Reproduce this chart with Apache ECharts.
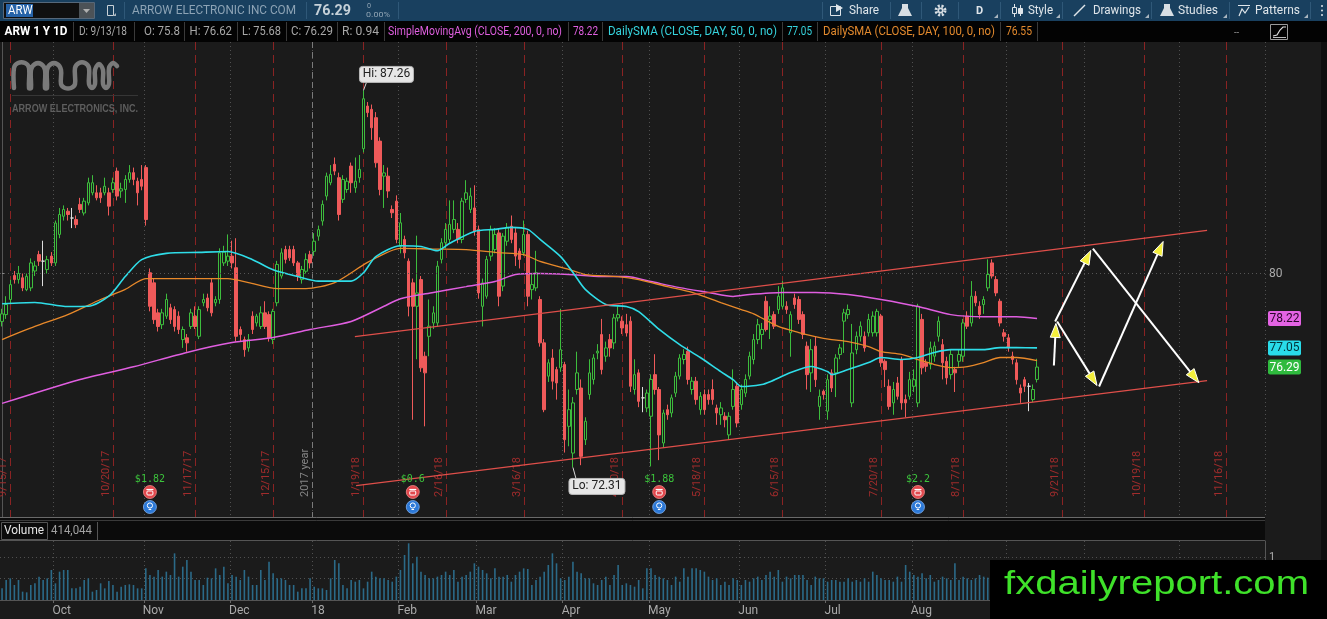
<!DOCTYPE html>
<html>
<head>
<meta charset="utf-8">
<title>ARW 1 Y 1D</title>
<script src="https://cdn.jsdelivr.net/npm/echarts@6.0.0/dist/echarts.min.js"></script>
<style>
  html, body { margin: 0; padding: 0; background: #1b1b1b; overflow: hidden; }
  #main { width: 1327px; height: 619px; }
</style>
</head>
<body>
<div id="main"></div>
<script>
// trading calendar 9/13/17 .. 11/30/18 (future part is empty space on the chart)
var holidays = ['2017-11-23', '2017-12-25', '2018-01-01', '2018-01-15', '2018-02-19',
  '2018-03-30', '2018-05-28', '2018-07-04', '2018-09-03', '2018-11-22'];
var dates = [];
(function () {
  var d = new Date(Date.UTC(2017, 8, 13));
  var end = Date.UTC(2018, 10, 30);
  while (d.getTime() <= end) {
    var wd = d.getUTCDay();
    var s = d.toISOString().slice(0, 10);
    if (wd !== 0 && wd !== 6 && holidays.indexOf(s) < 0) dates.push(s);
    d.setUTCDate(d.getUTCDate() + 1);
  }
})();

// bottom axis month labels (one per month start)
var monthTicks = ['Oct', 'Nov', 'Dec', '18', 'Feb', 'Mar', 'Apr', 'May', 'Jun', 'Jul', 'Aug', 'Sep', 'Oct', 'Nov'];

// daily candles [open, close, low, high], 9/13/17 .. 9/13/18
var candles = [
  [78.1, 78.4, 77.9, 78.6], [78.37, 78.77, 78.2, 79.1], [78.97, 79.56, 78.8, 79.75], [79.92, 79.76, 79.6, 80.1],
  [79.76, 80.0, 79.6, 80.3], [79.83, 79.43, 79.3, 80.0], [79.36, 79.89, 79.3, 80.0], [79.43, 80.42, 79.3, 80.6],
  [80.1, 80.3, 79.9, 80.5], [80.75, 80.49, 80.3, 80.9], [80.49, 80.49, 79.5, 81.3], [80.16, 80.55, 80.0, 80.7],
  [80.69, 80.42, 80.3, 80.85], [80.42, 82.0, 80.3, 82.1], [81.55, 82.34, 81.4, 82.6], [82.27, 82.54, 82.1, 82.7],
  [82.47, 82.34, 82.1, 82.6], [82.2, 82.2, 81.8, 82.6], [82.14, 81.94, 81.8, 82.3], [82.74, 82.54, 82.4, 83.0],
  [82.4, 82.87, 82.3, 83.0], [82.8, 83.6, 82.7, 83.8], [83.2, 83.6, 83.1, 83.9], [83.2, 83.0, 82.9, 83.5],
  [83.2, 83.0, 82.8, 83.4], [83.2, 83.46, 83.1, 83.8], [83.2, 82.67, 82.3, 83.4], [83.33, 83.6, 83.2, 83.8],
  [84.06, 83.07, 82.9, 84.2], [83.27, 83.36, 83.0, 83.6], [83.33, 83.73, 82.8, 83.9], [83.73, 84.0, 83.6, 84.3],
  [84.0, 83.73, 83.5, 84.2], [83.66, 83.2, 82.7, 83.8], [83.73, 83.46, 83.3, 84.3], [84.2, 82.14, 81.9, 84.3],
  [80.03, 78.7, 78.5, 80.2], [79.63, 78.17, 78.0, 79.8], [78.44, 77.9, 77.7, 78.6], [77.97, 78.44, 77.8, 78.6],
  [78.31, 78.97, 78.2, 79.2], [78.64, 78.17, 78.0, 78.8], [78.57, 77.9, 77.7, 78.7], [78.31, 77.78, 77.6, 78.5],
  [77.38, 77.78, 77.05, 77.9], [77.45, 77.25, 76.9, 77.6], [77.9, 78.44, 77.8, 78.6], [78.31, 77.9, 77.8, 78.7],
  [77.51, 78.57, 77.4, 78.7], [78.84, 78.97, 78.7, 79.2], [79.03, 78.64, 78.5, 79.2], [79.63, 78.44, 78.3, 79.8],
  [78.84, 78.97, 78.7, 79.1], [78.97, 80.82, 78.8, 81.0], [80.42, 80.85, 80.3, 81.1], [80.49, 80.69, 80.3, 81.55],
  [80.69, 80.42, 80.2, 81.3], [80.23, 77.51, 77.3, 81.4], [77.78, 77.58, 77.3, 77.9], [77.38, 76.98, 76.7, 77.5],
  [77.05, 77.38, 76.9, 77.6], [78.31, 77.78, 77.6, 78.5], [78.04, 78.31, 77.9, 78.4], [77.9, 78.44, 77.8, 78.7],
  [78.44, 77.9, 77.8, 78.9], [78.37, 77.45, 77.3, 78.5], [77.38, 78.5, 77.2, 78.6], [78.84, 80.36, 78.7, 80.5],
  [79.9, 80.82, 79.8, 81.0], [80.95, 80.56, 80.4, 81.1], [80.95, 80.62, 80.5, 81.1], [80.95, 80.42, 80.3, 81.1],
  [80.42, 79.9, 79.7, 80.5], [79.76, 80.16, 79.6, 80.3], [80.09, 80.55, 80.0, 80.8], [80.75, 80.42, 80.2, 80.9],
  [80.88, 81.28, 80.7, 81.6], [81.48, 81.74, 81.3, 81.9], [82.08, 82.74, 81.9, 82.9], [83.07, 83.86, 82.9, 84.0],
  [83.6, 83.93, 83.5, 84.3], [84.33, 84.06, 83.9, 84.6], [83.8, 82.34, 82.1, 84.0], [82.94, 83.73, 82.8, 83.9],
  [83.33, 83.66, 83.2, 83.8], [84.26, 83.6, 83.2, 84.4], [83.4, 83.66, 83.2, 84.6], [83.8, 84.13, 83.6, 84.7],
  [84.95, 86.93, 84.8, 87.26], [86.64, 86.38, 86.2, 86.8], [86.51, 85.78, 85.3, 86.7], [86.18, 84.39, 84.2, 86.4],
  [85.25, 83.33, 83.1, 85.4], [83.86, 83.99, 82.6, 84.3], [83.86, 83.27, 83.0, 84.2], [82.54, 82.41, 82.2, 82.7],
  [82.87, 81.35, 81.2, 83.1], [81.08, 82.01, 80.8, 82.4], [81.35, 80.82, 80.6, 81.5], [80.49, 78.7, 78.3, 80.6],
  [79.63, 78.7, 74.2, 79.8], [78.7, 79.23, 76.6, 81.5], [79.76, 76.26, 76.1, 79.9], [76.72, 76.06, 73.94, 76.9],
  [77.51, 77.91, 76.72, 78.97], [78.04, 78.44, 77.8, 78.7], [78.04, 80.29, 77.9, 80.5], [80.56, 81.22, 80.4, 81.4],
  [81.22, 81.75, 81.0, 82.0], [81.35, 81.95, 81.2, 82.9], [81.75, 82.14, 81.6, 82.9], [81.75, 81.35, 81.2, 82.0],
  [81.35, 82.87, 81.2, 83.0], [82.94, 83.2, 82.8, 83.7], [82.54, 83.07, 82.4, 83.4], [82.6, 81.68, 81.5, 83.5],
  [81.75, 79.23, 79.0, 81.9], [78.7, 79.63, 77.9, 79.8], [79.1, 80.56, 79.0, 80.7], [80.69, 81.75, 80.5, 81.9],
  [80.95, 81.55, 80.8, 81.8], [81.61, 79.1, 78.7, 81.8], [79.5, 81.48, 79.3, 81.6], [81.28, 81.81, 81.1, 82.0],
  [81.88, 81.35, 81.2, 82.3], [81.61, 80.69, 80.3, 81.8], [80.89, 80.56, 80.2, 81.0], [80.82, 81.55, 80.7, 82.1],
  [81.55, 79.1, 78.7, 81.7], [79.36, 79.56, 78.97, 80.0], [79.43, 80.03, 79.3, 80.9], [78.97, 77.25, 77.1, 79.1],
  [77.25, 74.6, 74.5, 77.4], [75.93, 76.46, 75.7, 76.6], [76.65, 75.73, 75.4, 77.0], [76.19, 75.66, 75.0, 76.3],
  [76.26, 76.98, 76.1, 78.6], [76.39, 73.41, 72.9, 76.5], [73.94, 74.6, 73.15, 75.4], [72.88, 74.87, 72.31, 75.1],
  [75.4, 76.06, 75.2, 76.9], [75.46, 72.75, 72.4, 75.8], [73.41, 74.14, 73.2, 74.3], [75.2, 76.06, 75.0, 76.6],
  [75.8, 76.65, 75.6, 76.8], [76.85, 76.92, 76.6, 77.2], [77.58, 76.19, 76.0, 78.2], [76.72, 77.05, 76.5, 77.3],
  [77.38, 77.05, 76.7, 77.6], [77.25, 78.24, 77.0, 78.4], [78.24, 78.37, 78.1, 78.7], [78.11, 77.84, 77.6, 78.3],
  [77.97, 77.64, 77.5, 78.4], [78.11, 75.53, 75.3, 78.3], [75.4, 75.99, 75.2, 76.6], [76.06, 74.93, 74.7, 76.2],
  [75.07, 75.07, 74.5, 75.5], [74.67, 75.26, 74.5, 75.4], [74.34, 75.8, 72.35, 76.0], [75.99, 75.4, 75.2, 76.8],
  [75.4, 73.6, 72.6, 75.5], [73.28, 74.47, 73.1, 74.6], [74.6, 74.4, 74.2, 74.8], [74.47, 75.07, 74.3, 75.2],
  [75.26, 75.93, 75.1, 76.1], [75.93, 76.65, 75.8, 76.8], [76.59, 76.79, 76.4, 77.0], [76.92, 75.8, 75.6, 77.1],
  [75.4, 75.73, 75.2, 75.9], [75.73, 75.0, 74.8, 75.9], [74.6, 75.13, 74.4, 75.3], [75.2, 74.6, 74.4, 75.4],
  [75.2, 75.0, 74.8, 75.4], [75.4, 75.0, 74.8, 75.8], [74.67, 74.47, 74.0, 74.8], [74.4, 74.67, 74.0, 74.9],
  [74.34, 74.2, 73.9, 74.5], [73.6, 74.34, 73.4, 74.5], [74.73, 75.4, 74.6, 76.2], [75.53, 74.07, 73.9, 75.7],
  [74.8, 75.4, 74.6, 75.6], [75.26, 75.8, 75.1, 76.0], [75.93, 76.72, 75.8, 76.9], [76.59, 77.38, 76.4, 77.6],
  [77.38, 77.97, 77.2, 78.2], [77.58, 77.78, 77.0, 78.04], [78.9, 77.78, 77.7, 79.1], [78.18, 78.31, 77.4, 78.7],
  [78.37, 77.91, 77.8, 78.5], [78.57, 79.1, 78.4, 79.5], [78.7, 79.43, 78.6, 79.7], [78.7, 78.57, 78.4, 78.9],
  [77.65, 78.37, 76.7, 78.5], [79.03, 78.77, 78.6, 79.2], [78.97, 78.18, 78.0, 79.1], [78.37, 77.58, 77.4, 78.5],
  [77.12, 75.99, 75.4, 77.3], [76.06, 76.98, 75.3, 77.4], [77.12, 75.79, 75.5, 77.5], [74.73, 75.13, 74.2, 75.4],
  [75.33, 75.2, 75.0, 75.4], [74.54, 75.79, 74.2, 76.0], [76.06, 75.46, 75.3, 76.2], [76.06, 76.65, 75.1, 76.8],
  [76.79, 77.05, 76.6, 77.2], [78.11, 78.44, 76.85, 78.6], [78.37, 78.57, 78.2, 78.77], [74.87, 76.85, 74.7, 78.0],
  [76.98, 77.51, 76.8, 77.7], [77.51, 77.91, 77.3, 78.1], [77.51, 77.05, 76.9, 77.7], [77.65, 78.18, 77.5, 78.4],
  [77.65, 78.31, 77.5, 78.5], [77.65, 78.5, 77.5, 78.6], [78.31, 76.46, 76.3, 78.4], [76.52, 76.19, 75.5, 76.6],
  [75.53, 74.73, 74.6, 75.8], [74.87, 75.4, 74.4, 75.7], [75.66, 75.13, 75.0, 75.9], [76.59, 74.87, 74.6, 76.7],
  [75.0, 74.87, 74.3, 75.2], [75.13, 75.79, 75.0, 76.1], [75.53, 75.79, 75.3, 76.2], [74.87, 78.7, 74.7, 78.8],
  [78.18, 76.26, 76.0, 78.4], [76.46, 76.32, 76.1, 76.6], [76.39, 77.05, 76.2, 77.3], [76.72, 77.12, 76.5, 77.3],
  [77.51, 78.11, 77.3, 78.3], [77.18, 76.46, 75.8, 77.4], [76.52, 75.86, 75.6, 76.7], [75.99, 76.79, 75.8, 77.0],
  [76.19, 76.06, 75.3, 76.3], [76.52, 76.79, 76.3, 77.0], [76.72, 78.04, 76.5, 78.2], [78.31, 77.91, 77.8, 78.5],
  [78.04, 79.1, 77.9, 79.7], [79.1, 78.84, 78.7, 79.3], [78.7, 78.37, 78.2, 78.9], [78.77, 78.97, 78.4, 79.1],
  [79.43, 79.96, 79.3, 80.56], [80.42, 79.9, 79.8, 80.56], [79.76, 79.23, 79.1, 79.9], [78.9, 78.04, 77.9, 79.0],
  [77.65, 77.51, 77.3, 77.8], [77.45, 77.05, 76.9, 77.6], [76.72, 76.59, 76.4, 76.9], [76.46, 75.79, 75.6, 76.6],
  [75.46, 75.26, 74.87, 75.6], [75.79, 75.53, 75.3, 75.9], [75.53, 75.53, 74.54, 75.66], [75.0, 75.4, 74.9, 75.6],
  [75.8, 76.29, 75.68, 76.62]
];

// daily volume, thousands of shares
var volumes = [
  271, 465, 504, 349, 465, 194, 178, 349, 388, 543, 465, 504, 698, 388, 659, 698, 698, 271, 271, 310,
  465, 504, 194, 233, 388, 271, 442, 349, 194, 310, 349, 364, 349, 271, 271,
  736, 581, 543, 698, 543, 659, 581, 1085, 543, 775, 930, 659, 465, 465, 349, 519, 504, 736, 581, 775,
  388, 581, 543, 465, 698, 543, 349, 349, 698, 465, 891, 620, 504, 504, 465, 349, 349, 194, 271, 271,
  504, 310, 271, 271, 233, 504, 930, 853, 349, 271, 465, 426, 465, 271, 426, 659, 543, 504, 504, 465,
  426, 543, 698, 1047, 1318, 853, 1008, 659, 581, 504, 504, 543, 581, 659, 581, 698, 426, 543, 581, 659,
  853, 775, 698, 620, 504, 736, 543, 543, 581, 426,
  581, 659, 736, 721, 349, 465, 543, 659, 814, 1085, 853, 504, 465, 543, 891, 659, 620, 504, 504, 388,
  349, 465, 543, 349, 581, 814, 349, 388, 349, 310, 465, 271, 736, 736, 581, 543, 504, 465, 349, 543,
  426, 736, 543, 736, 736, 698, 659, 543, 465, 504, 349, 426, 349, 504, 465, 349, 465, 426, 504, 543,
  465, 581, 659, 543, 698, 426, 543, 504, 581, 581, 581, 465, 349, 543, 504, 504, 426, 465, 465, 426,
  426, 504, 426, 465, 426, 504, 426, 659, 581, 504, 465, 465, 426, 543, 426, 814, 659, 581, 543, 620,
  504, 581, 426, 465, 543, 504, 465, 853, 465, 543, 504, 465, 504, 581, 543,
  520, 480, 610, 560, 500, 540, 600, 470, 520, 480, 440, 460, 414.044
];

// moving averages: [bar index, value]
var sma200 = [[0, 74.85], [19, 75.8], [32, 76.3], [45, 76.87], [56, 77.26], [66, 77.46], [75, 77.78], [85, 78.1],
  [93, 78.7], [97, 79.0], [105, 79.25], [113, 79.48], [120, 79.68], [125, 79.96], [131, 80.0], [138, 79.96],
  [146, 79.88], [152, 79.88], [158, 79.68], [165, 79.44], [172, 79.25], [178, 79.09], [182, 79.17], [190, 79.25],
  [198, 79.25], [206, 79.17], [214, 78.97], [223, 78.69], [231, 78.37], [239, 78.29], [247, 78.29], [252, 78.22]];
var sma50 = [[0, 78.8], [8, 78.85], [16, 78.69], [21, 78.7], [26, 79.1], [30, 79.88], [34, 80.55], [40, 80.8],
  [48, 80.84], [55, 80.87], [61, 80.55], [66, 80.15], [72, 79.88], [77, 79.7], [85, 79.7], [88, 80.03],
  [91, 80.67], [97, 81.1], [102, 81.07], [106, 80.9], [109, 81.2], [115, 81.67], [120, 81.75], [124, 81.83],
  [128, 81.75], [131, 81.35], [136, 80.67], [139, 80.04], [142, 79.37], [147, 78.77], [152, 78.69], [155, 78.49],
  [160, 77.78], [165, 77.18], [170, 76.67], [175, 76.11], [178, 75.79], [180, 75.52], [185, 75.6], [187, 75.71],
  [192, 76.07], [197, 76.31], [201, 76.11], [202, 75.99], [206, 76.19], [211, 76.47], [214, 76.67], [219, 76.59],
  [223, 76.67], [227, 76.87], [231, 76.98], [235, 76.98], [239, 76.98], [243, 77.06], [247, 77.06], [252, 77.05]];
var sma100 = [[0, 77.38], [8, 77.9], [16, 78.37], [24, 78.97], [30, 79.37], [35, 79.8], [44, 79.8], [55, 79.8],
  [60, 79.64], [67, 79.4], [74, 79.4], [81, 79.64], [89, 80.44], [97, 81.0], [105, 80.97], [113, 80.95],
  [121, 80.83], [127, 80.75], [131, 80.48], [138, 80.16], [142, 79.96], [150, 79.88], [155, 79.76], [162, 79.48],
  [168, 79.25], [175, 78.85], [180, 78.57], [183, 78.4], [189, 77.9], [194, 77.66], [198, 77.5], [202, 77.38],
  [206, 77.3], [211, 77.1], [214, 76.9], [219, 76.79], [223, 76.59], [227, 76.39], [231, 76.27], [235, 76.31],
  [239, 76.47], [243, 76.67], [247, 76.67], [252, 76.55]];

// option expiration dates (red dashed verticals) and earnings
var expiryDates = ['2017-09-15', '2017-10-20', '2017-11-17', '2017-12-15', '2018-01-19', '2018-02-16',
  '2018-03-16', '2018-04-20', '2018-05-18', '2018-06-15', '2018-07-20', '2018-08-17', '2018-09-21',
  '2018-10-19', '2018-11-16'];
var earningsDates = ['2017-11-02', '2018-02-06', '2018-05-03', '2018-08-02'];
var earningsText = ['$1.82', '$0.6', '$1.88', '$2.2'];

// hand drawings, in [bar index, price]
var channelLines = [[85.9, 77.5, 293.4, 81.71], [86.2, 71.59, 293.4, 75.75]];
var arrowLines = [
  [256.1, 76.35, 256.6, 78.02],
  [256.4, 78.10, 265.1, 80.91],
  [256.9, 78.10, 266.6, 75.56],
  [267.1, 75.52, 282.7, 81.27],
  [265.6, 80.99, 291.4, 75.67]
];

// ---- derived lookups ----
var monthStart = {}, monthLabelAt = {};
(function () {
  var k = 0;
  for (var i = 1; i < dates.length; i++) {
    if (dates[i].slice(0, 7) !== dates[i - 1].slice(0, 7)) {
      monthStart[i] = true;
      monthLabelAt[i] = monthTicks[k++];
    }
  }
})();
function shortDate(s) {
  return (+s.slice(5, 7)) + '/' + (+s.slice(8, 10)) + '/' + s.slice(2, 4);
}
var expiryLabels = expiryDates.map(shortDate);
var yearIdx = dates.indexOf('2018-01-02');
var last = candles.length - 1;
var hiIdx = 0, loIdx = 0;
candles.forEach(function (c, i) {
  if (c[3] > candles[hiIdx][3]) hiIdx = i;
  if (c[2] < candles[loIdx][2]) loIdx = i;
});
var lastS200 = sma200[sma200.length - 1][1];
var lastS50 = sma50[sma50.length - 1][1];
var lastS100 = sma100[sma100.length - 1][1];
var lc = candles[last];

var UP = '#3dbd3d', DOWN = '#ef5a5a', BG = '#1b1b1b';
var tagFill = ['#e463e4', '#29dce9', '#2fba3e'];
var tagText = ['#2a062a', '#033338', '#ffffff'];

function renderExpiry(params, api) {
  var cs = params.coordSys;
  var x = Math.round(api.coord([api.value(0), api.value(1)])[0]) + 0.5;
  var bottom = cs.y + cs.height;
  return { type: 'group', children: [
    { type: 'line', shape: { x1: x, y1: cs.y, x2: x, y2: bottom }, style: { stroke: '#8a2323', lineWidth: 1, lineDash: [8, 5] } },
    { type: 'text', x: x - 7, y: bottom - 20, rotation: Math.PI / 2,
      style: { text: expiryLabels[params.dataIndex], fill: '#a02c2c', font: '11px Roboto', align: 'left', verticalAlign: 'middle' } }
  ] };
}
function renderYear(params, api) {
  var cs = params.coordSys;
  var x = Math.round(api.coord([api.value(0), api.value(1)])[0] - api.size([1, 0])[0] / 2) + 0.5;
  var bottom = cs.y + cs.height;
  return { type: 'group', children: [
    { type: 'line', shape: { x1: x, y1: cs.y, x2: x, y2: bottom }, style: { stroke: '#7a7a7a', lineWidth: 1, lineDash: [6, 4] } },
    { type: 'text', x: x - 7, y: bottom - 20, rotation: Math.PI / 2,
      style: { text: '2017 year', fill: '#858585', font: '11px Roboto', align: 'left', verticalAlign: 'middle' } }
  ] };
}
function renderEarn(params, api) {
  var cs = params.coordSys;
  var x = api.coord([api.value(0), api.value(1)])[0];
  var b = cs.y + cs.height, c1 = b - 25, c2 = b - 10;
  return { type: 'group', children: [
    { type: 'text', x: x, y: b - 38, style: { text: earningsText[params.dataIndex], fill: '#3cc43c',
      font: '10px "DejaVu Sans Mono"', align: 'center', verticalAlign: 'middle' } },
    { type: 'circle', shape: { cx: x, cy: c1, r: 6.5 }, style: { fill: '#e2474c', stroke: '#f08a8a', lineWidth: 0.8 } },
    { type: 'rect', shape: { x: x - 3, y: c1 - 1, width: 6, height: 4, r: 1 }, style: { fill: 'none', stroke: '#fff', lineWidth: 1 } },
    { type: 'line', shape: { x1: x - 3.5, y1: c1 - 2.5, x2: x + 3.5, y2: c1 - 2.5 }, style: { stroke: '#fff', lineWidth: 1.2 } },
    { type: 'circle', shape: { cx: x, cy: c2, r: 6.5 }, style: { fill: '#2c79d8', stroke: '#7fb0f0', lineWidth: 0.8 } },
    { type: 'circle', shape: { cx: x, cy: c2 - 1.5, r: 2.6 }, style: { fill: 'none', stroke: '#fff', lineWidth: 1 } },
    { type: 'line', shape: { x1: x - 1.3, y1: c2 + 2.5, x2: x + 1.3, y2: c2 + 2.5 }, style: { stroke: '#fff', lineWidth: 1 } }
  ] };
}
function renderHiLo(params, api) {
  var p = api.coord([api.value(0), api.value(1)]);
  var isHi = api.value(2) === 1;
  var w = isHi ? 54 : 56, h = 16;
  var bx = p[0] - 4, by = isHi ? p[1] - 24 : p[1] + 11;
  var ty = isHi ? by + h : by;
  return { type: 'group', children: [
    { type: 'line', shape: { x1: p[0] + 3, y1: ty, x2: p[0], y2: p[1] }, style: { stroke: '#d8d8d8', lineWidth: 1 } },
    { type: 'rect', shape: { x: bx, y: by, width: w, height: h, r: 3 }, style: { fill: '#e6e6e6', stroke: '#b8b8b8', lineWidth: 1 } },
    { type: 'text', x: bx + w / 2, y: by + h / 2, style: { text: (isHi ? 'Hi: ' : 'Lo: ') + api.value(1).toFixed(2),
      fill: '#222', font: '12px Roboto', align: 'center', verticalAlign: 'middle' } }
  ] };
}
function renderTag(params, api) {
  var cs = params.coordSys;
  var y = api.coord([api.value(0), api.value(1)])[1];
  var k = api.value(2), x = cs.x + cs.width + 3;
  return { type: 'group', children: [
    { type: 'rect', shape: { x: x, y: y - 7.5, width: 33, height: 15, r: 2 }, style: { fill: tagFill[k] } },
    { type: 'text', x: x + 16.5, y: y + 0.5, style: { text: api.value(1).toFixed(2), fill: tagText[k],
      font: '12px Roboto', align: 'center', verticalAlign: 'middle' } }
  ] };
}
function renderSeg(params, api) {
  var a = api.coord([api.value(0), api.value(1)]), b = api.coord([api.value(2), api.value(3)]);
  return { type: 'line', shape: { x1: a[0], y1: a[1], x2: b[0], y2: b[1] }, style: { stroke: '#df4f4a', lineWidth: 1.2 } };
}
function renderArrow(params, api) {
  var a = api.coord([api.value(0), api.value(1)]), b = api.coord([api.value(2), api.value(3)]);
  var dx = b[0] - a[0], dy = b[1] - a[1], len = Math.sqrt(dx * dx + dy * dy);
  var ux = dx / len, uy = dy / len, L = 14, W = 5;
  var hx = b[0] - ux * L, hy = b[1] - uy * L;
  return { type: 'group', children: [
    { type: 'line', shape: { x1: a[0], y1: a[1], x2: hx + ux * 3, y2: hy + uy * 3 }, style: { stroke: '#ffffff', lineWidth: 2 } },
    { type: 'polygon', shape: { points: [[b[0], b[1]], [hx - uy * W, hy + ux * W], [hx + uy * W, hy - ux * W]] },
      style: { fill: '#f3ee3c', stroke: '#ffffff', lineWidth: 1 } }
  ] };
}

// ---- static chrome (toolbar, study legend, logo, panel headers) ----
var measureCtx = document.createElement('canvas').getContext('2d');
function txt(x, y, s, color, size, o) {
  o = o || {};
  var font = (o.bold ? 'bold ' : '') + size + 'px ' + (o.family || 'Roboto');
  var sx = o.sx || 0.86;
  if (o.w) {
    measureCtx.font = font;
    sx = o.w / measureCtx.measureText(s).width;
  }
  return { type: 'text', x: x, y: y, scaleX: sx, z: o.z || 100,
    style: { text: s, fill: color, font: font, align: o.align || 'left', verticalAlign: 'middle' } };
}
function ln(x1, y1, x2, y2, color, w) {
  return { type: 'line', z: 100, shape: { x1: x1, y1: y1, x2: x2, y2: y2 }, style: { stroke: color, lineWidth: w || 1 } };
}
function box(x, y, w, h, fill, stroke, z) {
  return { type: 'rect', z: z || 99, shape: { x: x, y: y, width: w, height: h }, style: { fill: fill || 'none', stroke: stroke || 'none' } };
}
function poly(pts, fill, stroke) {
  return { type: 'polygon', z: 100, shape: { points: pts }, style: { fill: fill || 'none', stroke: stroke || 'none' } };
}
var TB = '#19405f', TBT = '#dfe5ea', SEP = '#2f5878', LEG = '#a8a8a8', LSEP = '#3a3a3a';
var chrome = [
  box(0, 0, 1327, 21, TB),
  box(3.5, 2.5, 91, 16, '#101010', '#56687a'),
  box(6, 4, 27, 13, '#2663a8', null, 100),
  txt(8, 11, 'ARW', '#ffffff', 12, { sx: 0.95 }),
  box(79, 3, 15, 15, '#4c5257', null, 100),
  poly([[83, 9], [90, 9], [86.5, 13]], '#b0b0b0'),
  box(107.5, 5.5, 6, 10, null, '#c8d0d6', 100),
  poly([[113, 16], [116, 16], [116, 13]], '#aab6c0'),
  ln(124.5, 2, 124.5, 19, SEP),
  txt(132, 11, 'ARROW ELECTRONIC INC COM', '#8da3b5', 12, { w: 164 }),
  ln(306.5, 2, 306.5, 19, SEP),
  txt(314, 11, lc[1].toFixed(2), '#c5d0d8', 15, { bold: true, w: 37 }),
  txt(367, 5.5, '0', '#90a4b4', 8, { sx: 0.9 }),
  txt(366, 14.5, '0.00%', '#90a4b4', 8, { w: 24 }),
  ln(398.5, 2, 398.5, 19, SEP),
  ln(822.5, 2, 822.5, 19, SEP), ln(890.5, 2, 890.5, 19, SEP), ln(921.5, 2, 921.5, 19, SEP),
  ln(958.5, 2, 958.5, 19, SEP), ln(1000.5, 2, 1000.5, 19, SEP), ln(1062.5, 2, 1062.5, 19, SEP),
  ln(1151.5, 2, 1151.5, 19, SEP), ln(1229.5, 2, 1229.5, 19, SEP), ln(1310.5, 2, 1310.5, 19, SEP),
  box(830.5, 6.5, 10, 9, null, TBT, 100),
  poly([[836, 4], [843, 8], [836, 12]], TBT),
  txt(849, 11, 'Share', TBT, 12, { w: 30 }),
  poly([[902, 4], [908, 4], [908, 8], [912, 16], [898, 16], [902, 8]], '#d8dee3'),
  { type: 'circle', z: 100, shape: { cx: 940.5, cy: 10.5, r: 4.5 }, style: { fill: 'none', stroke: '#d8dee3', lineWidth: 3, lineDash: [2, 1.6] } },
  { type: 'circle', z: 100, shape: { cx: 940.5, cy: 10.5, r: 3 }, style: { fill: '#d8dee3' } },
  { type: 'circle', z: 100, shape: { cx: 940.5, cy: 10.5, r: 1.3 }, style: { fill: TB } },
  txt(976, 11, 'D', TBT, 11, { bold: true, sx: 1 }),
  poly([[994, 18], [998, 18], [998, 14]], '#aab6c0'),
  ln(1014.5, 4, 1014.5, 17, TBT), box(1012.5, 7.5, 4, 6, TB, TBT, 100),
  ln(1020.5, 5, 1020.5, 16, TBT), box(1018.5, 8.5, 4, 5, TBT, TBT, 100),
  txt(1028, 11, 'Style', TBT, 12, { w: 25 }),
  poly([[1056, 18], [1060, 18], [1060, 14]], '#aab6c0'),
  ln(1074, 16, 1085, 5, TBT, 1.5),
  txt(1093, 11, 'Drawings', TBT, 12, { w: 48 }),
  poly([[1145, 18], [1149, 18], [1149, 14]], '#aab6c0'),
  poly([[1164, 4], [1170, 4], [1170, 8], [1174, 16], [1160, 16], [1164, 8]], '#d8dee3'),
  txt(1178, 11, 'Studies', TBT, 12, { w: 40 }),
  poly([[1223, 18], [1227, 18], [1227, 14]], '#aab6c0'),
  ln(1238, 5.5, 1250, 5.5, TBT),
  { type: 'polyline', z: 100, shape: { points: [[1239, 16], [1242, 9], [1245, 13], [1249, 7]] }, style: { stroke: TBT, lineWidth: 1.2, fill: 'none' } },
  txt(1255, 11, 'Patterns', TBT, 12, { w: 45 }),
  poly([[1304, 18], [1308, 18], [1308, 14]], '#aab6c0'),
  { type: 'circle', z: 100, shape: { cx: 1322, cy: 6, r: 1 }, style: { fill: TBT } },
  { type: 'circle', z: 100, shape: { cx: 1322, cy: 10.5, r: 1 }, style: { fill: TBT } },
  { type: 'circle', z: 100, shape: { cx: 1322, cy: 15, r: 1 }, style: { fill: TBT } },

  // study legend row
  box(0, 21, 1327, 21, '#030303'),
  ln(73.5, 22, 73.5, 41, LSEP), ln(134.5, 22, 134.5, 41, LSEP), ln(184.5, 22, 184.5, 41, LSEP),
  ln(237.5, 22, 237.5, 41, LSEP), ln(286.5, 22, 286.5, 41, LSEP), ln(337.5, 22, 337.5, 41, LSEP),
  ln(384.5, 22, 384.5, 41, LSEP), ln(568.5, 22, 568.5, 41, LSEP), ln(602.5, 22, 602.5, 41, LSEP),
  ln(782.5, 22, 782.5, 41, LSEP), ln(817.5, 22, 817.5, 41, LSEP), ln(1000.5, 22, 1000.5, 41, LSEP),
  ln(1037.5, 22, 1037.5, 41, LSEP),
  txt(4.5, 31.5, 'ARW 1 Y 1D', '#ffffff', 12, { bold: true, w: 63 }),
  txt(79, 31.5, 'D: ' + shortDate(dates[last]), LEG, 12, { w: 48 }),
  txt(144, 31.5, 'O: ' + lc[0], LEG, 12, { w: 36 }),
  txt(189.5, 31.5, 'H: ' + lc[3], LEG, 12, { w: 42.5 }),
  txt(242, 31.5, 'L: ' + lc[2], LEG, 12, { w: 39 }),
  txt(291, 31.5, 'C: ' + lc[1], LEG, 12, { w: 42 }),
  txt(342, 31.5, 'R: ' + (lc[3] - lc[2]).toFixed(2), LEG, 12, { w: 37 }),
  txt(388, 31.5, 'SimpleMovingAvg (CLOSE, 200, 0, no)', '#df5fdf', 12, { w: 174 }),
  txt(573, 31.5, lastS200.toFixed(2), '#df5fdf', 12, { w: 25 }),
  txt(608, 31.5, 'DailySMA (CLOSE, DAY, 50, 0, no)', '#36d3dd', 12, { w: 169 }),
  txt(787, 31.5, lastS50.toFixed(2), '#36d3dd', 12, { w: 25 }),
  txt(823, 31.5, 'DailySMA (CLOSE, DAY, 100, 0, no)', '#e38a2e', 12, { w: 172 }),
  txt(1006, 31.5, lastS100.toFixed(2), '#e38a2e', 12, { w: 26 }),
  txt(1234, 33, '--', '#8a8a8a', 11),
  box(1270.5, 24.5, 17, 15, null, '#9a9a9a', 100),
  { type: 'polyline', z: 100, shape: { points: [[1273, 36], [1277, 35], [1280, 30], [1283, 27], [1286, 27]] }, style: { stroke: '#dddddd', lineWidth: 1.2, fill: 'none' } },
  ln(1273, 37.5, 1286, 37.5, '#bbbbbb'),

  // logo watermark (wave wordmark)
  { type: 'polyline', z: 100, shape: { smooth: 0.35, points: [
      [14, 88], [14, 68], [18, 63], [25, 63], [29, 68], [29, 88], [31, 88], [31, 70], [35, 64], [41, 64],
      [45, 70], [45, 88], [47, 88], [47, 70], [51, 64], [57, 64], [61, 70], [61, 84], [65, 88], [71, 88],
      [75, 84], [75, 68], [79, 63], [85, 63], [89, 68], [89, 84], [92, 88], [95, 84], [95, 70], [99, 64],
      [103, 70], [103, 84], [106, 88], [109, 84], [109, 68], [113, 63], [117, 66]] },
    style: { stroke: '#7a7a7a', lineWidth: 4.5, fill: 'none', lineJoin: 'round', lineCap: 'round' } },
  ln(12, 95.5, 138, 95.5, '#363636'),
  txt(12, 109, 'ARROW ELECTRONICS, INC.', '#5e5e5e', 10, { bold: true, family: '"Liberation Sans"', w: 126 }),

  // panel separation + volume header
  ln(0, 517.5, 1265, 517.5, '#6a6a6a'),
  box(0, 518, 1265, 23, '#0b0b0b'),
  ln(0, 520.5, 1265, 520.5, '#3a3a3a'),
  box(1.5, 522.5, 46, 17, null, '#555555', 100),
  txt(4, 531, 'Volume', '#e6e6e6', 12, { w: 40 }),
  txt(51, 531, Math.round(volumes[last] * 1000).toLocaleString('en-US'), '#a0a0a0', 12, { w: 41 }),
  ln(97.5, 522, 97.5, 540, '#555555'),
  ln(0, 540.5, 1265, 540.5, '#555555'),

  // right edge strip
  box(1321, 42, 6, 577, '#0f0f0f'),

  // site watermark
  box(990, 560, 337, 59, '#000000', null, 150),
  txt(1004, 585, 'fxdailyreport.com', '#3fe12a', 33, { family: '"Liberation Sans"', w: 305, z: 151 })
];

var option = {
  animation: false,
  backgroundColor: BG,
  grid: [
    { left: 0, right: 62, top: 42, height: 475, outerBoundsMode: 'none' },
    { left: 0, right: 62, top: 541, height: 59, outerBoundsMode: 'none' }
  ],
  xAxis: [
    { type: 'category', gridIndex: 0, data: dates, boundaryGap: true,
      axisLine: { show: false }, axisTick: { show: false }, axisLabel: { show: false },
      splitLine: { show: true, interval: function (i) { return !!monthStart[i]; }, lineStyle: { color: '#505050', type: [1, 3] } } },
    { type: 'category', gridIndex: 1, data: dates, boundaryGap: true,
      axisLine: { show: true, lineStyle: { color: '#555' } },
      axisTick: { show: true, interval: function (i) { return !!monthStart[i]; }, length: 3, lineStyle: { color: '#666' } },
      axisLabel: { interval: function (i) { return !!monthStart[i]; }, formatter: function (v, i) { return monthLabelAt[i] || ''; },
        color: '#aaaaaa', fontSize: 12, fontFamily: 'Roboto', align: 'left', margin: 5, padding: [0, 0, 0, -3] },
      splitLine: { show: true, interval: function (i) { return !!monthStart[i]; }, lineStyle: { color: '#505050', type: [1, 3] } } },
    { type: 'value', gridIndex: 0, min: -0.5, max: dates.length - 0.5, show: false }
  ],
  yAxis: [
    { type: 'value', gridIndex: 0, position: 'right', min: 70.345, max: 89.18, scale: true,
      axisLine: { show: true, lineStyle: { color: '#555' } },
      axisTick: { show: true, customValues: [80], length: 3, lineStyle: { color: '#888' } },
      axisLabel: { customValues: [80], color: '#aaaaaa', fontSize: 12, fontFamily: 'Roboto', margin: 4 },
      splitLine: { show: false } },
    { type: 'value', gridIndex: 1, position: 'right', min: 0, max: 1372, interval: 500,
      axisLine: { show: true, lineStyle: { color: '#555' } },
      axisTick: { show: false },
      axisLabel: { formatter: function (v) { return v === 1000 ? '1' : ''; }, color: '#aaaaaa', fontSize: 11, fontFamily: 'Roboto', margin: 4 },
      splitLine: { show: true, showMinLine: false, showMaxLine: false, lineStyle: { color: '#505050', type: [1, 3] } } }
  ],
  graphic: { elements: chrome },
  series: [
    { type: 'custom', name: 'expiry', xAxisIndex: 0, yAxisIndex: 0, silent: true, z: 1,
      data: expiryDates.map(function (d) { return [dates.indexOf(d), 80]; }),
      encode: { x: 0, y: 1 }, renderItem: renderExpiry },
    { type: 'custom', name: 'year', xAxisIndex: 0, yAxisIndex: 0, silent: true, z: 1,
      data: [[yearIdx, 80]], encode: { x: 0, y: 1 }, renderItem: renderYear },
    { type: 'candlestick', name: 'ARW', xAxisIndex: 0, yAxisIndex: 0, data: candles, barWidth: 3,
      itemStyle: { color: BG, color0: DOWN, borderColor: UP, borderColor0: DOWN, borderColorDoji: '#dddddd', borderWidth: 1 },
      markLine: { silent: true, symbol: 'none', label: { show: false },
        lineStyle: { color: '#555', type: [1, 3], width: 1 }, data: [{ yAxis: 80 }] } },
    { type: 'line', name: 'SMA200', xAxisIndex: 0, yAxisIndex: 0, data: sma200, showSymbol: false, smooth: 0.25,
      lineStyle: { color: '#e05ee0', width: 1.5 }, silent: true },
    { type: 'line', name: 'SMA100', xAxisIndex: 0, yAxisIndex: 0, data: sma100, showSymbol: false, smooth: 0.25,
      lineStyle: { color: '#e8892a', width: 1.3 }, silent: true },
    { type: 'line', name: 'SMA50', xAxisIndex: 0, yAxisIndex: 0, data: sma50, showSymbol: false, smooth: 0.25,
      lineStyle: { color: '#2fdde8', width: 1.6 }, silent: true },
    { type: 'custom', name: 'channel', xAxisIndex: 2, yAxisIndex: 0, silent: true, z: 4,
      data: channelLines, encode: { x: [0, 2], y: [1, 3] }, renderItem: renderSeg },
    { type: 'custom', name: 'arrows', xAxisIndex: 2, yAxisIndex: 0, silent: true, z: 5, clip: false,
      data: arrowLines, encode: { x: [0, 2], y: [1, 3] }, renderItem: renderArrow },
    { type: 'custom', name: 'earnings', xAxisIndex: 0, yAxisIndex: 0, silent: true, z: 6, clip: false,
      data: earningsDates.map(function (d) { return [dates.indexOf(d), 80]; }),
      encode: { x: 0, y: 1 }, renderItem: renderEarn },
    { type: 'custom', name: 'hilo', xAxisIndex: 0, yAxisIndex: 0, silent: true, z: 6, clip: false,
      data: [[hiIdx, candles[hiIdx][3], 1], [loIdx, candles[loIdx][2], 0]],
      encode: { x: 0, y: 1 }, renderItem: renderHiLo },
    { type: 'custom', name: 'tags', xAxisIndex: 0, yAxisIndex: 0, silent: true, z: 6, clip: false,
      data: [[last, lastS200, 0], [last, lastS50, 1], [last, lc[1], 2]],
      encode: { x: 0, y: 1 }, renderItem: renderTag },
    { type: 'bar', name: 'Volume', xAxisIndex: 1, yAxisIndex: 1, data: volumes, barWidth: 1.6,
      itemStyle: { color: '#2b6a88' }, silent: true }
  ]
};

var chart = echarts.init(document.getElementById('main'));
chart.setOption(option);
</script>
</body>
</html>
